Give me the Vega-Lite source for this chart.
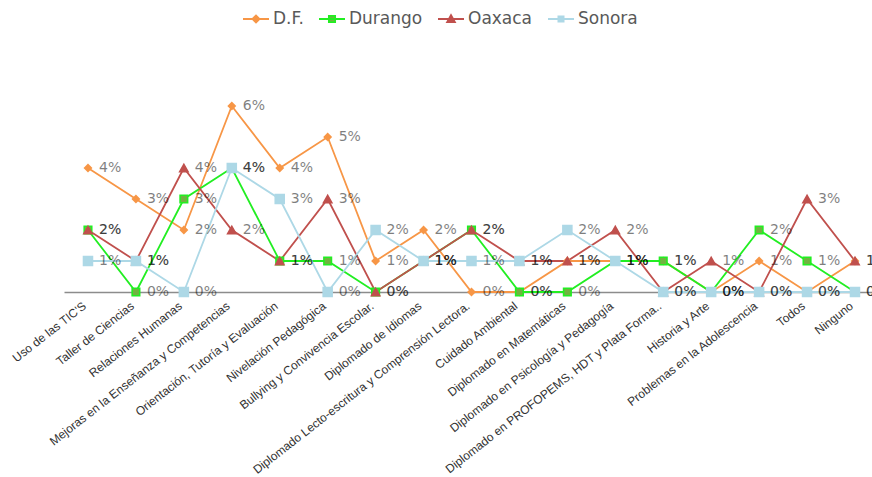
{
  "$schema": "https://vega.github.io/schema/vega-lite/v6.json",
  "autosize": {"type": "none"},
  "padding": {"left": 64, "top": 75, "right": 0, "bottom": 185},
  "width": 808,
  "height": 217,
  "background": "white",
  "config": {"view": {"stroke": null}},
  "data": {"values": [
    {"cat": "Uso de las TIC'S", "serie": "D.F.", "v": 0.04},
    {"cat": "Taller de Ciencias", "serie": "D.F.", "v": 0.03},
    {"cat": "Relaciones Humanas", "serie": "D.F.", "v": 0.02},
    {"cat": "Mejoras en la Enseñanza y Competencias", "serie": "D.F.", "v": 0.06},
    {"cat": "Orientación, Tutoría y Evaluación", "serie": "D.F.", "v": 0.04},
    {"cat": "Nivelación Pedagógica", "serie": "D.F.", "v": 0.05},
    {"cat": "Bullying y Convivencia Escolar.", "serie": "D.F.", "v": 0.01},
    {"cat": "Diplomado de Idiomas", "serie": "D.F.", "v": 0.02},
    {"cat": "Diplomado Lecto-escritura y Comprensión Lectora.", "serie": "D.F.", "v": 0},
    {"cat": "Cuidado Ambiental", "serie": "D.F.", "v": 0},
    {"cat": "Diplomado en Matemáticas", "serie": "D.F.", "v": 0.01},
    {"cat": "Diplomado en Psicología y Pedagogía", "serie": "D.F.", "v": 0.01},
    {"cat": "Diplomado en PROFOPEMS, HDT y Plata Forma..", "serie": "D.F.", "v": 0.01},
    {"cat": "Historia y Arte", "serie": "D.F.", "v": 0},
    {"cat": "Problemas en la Adolescencia", "serie": "D.F.", "v": 0.01},
    {"cat": "Todos", "serie": "D.F.", "v": 0},
    {"cat": "Ninguno", "serie": "D.F.", "v": 0.01},
    {"cat": "Uso de las TIC'S", "serie": "Durango", "v": 0.02},
    {"cat": "Taller de Ciencias", "serie": "Durango", "v": 0},
    {"cat": "Relaciones Humanas", "serie": "Durango", "v": 0.03},
    {"cat": "Mejoras en la Enseñanza y Competencias", "serie": "Durango", "v": 0.04},
    {"cat": "Orientación, Tutoría y Evaluación", "serie": "Durango", "v": 0.01},
    {"cat": "Nivelación Pedagógica", "serie": "Durango", "v": 0.01},
    {"cat": "Bullying y Convivencia Escolar.", "serie": "Durango", "v": 0},
    {"cat": "Diplomado de Idiomas", "serie": "Durango", "v": 0.01},
    {"cat": "Diplomado Lecto-escritura y Comprensión Lectora.", "serie": "Durango", "v": 0.02},
    {"cat": "Cuidado Ambiental", "serie": "Durango", "v": 0},
    {"cat": "Diplomado en Matemáticas", "serie": "Durango", "v": 0},
    {"cat": "Diplomado en Psicología y Pedagogía", "serie": "Durango", "v": 0.01},
    {"cat": "Diplomado en PROFOPEMS, HDT y Plata Forma..", "serie": "Durango", "v": 0.01},
    {"cat": "Historia y Arte", "serie": "Durango", "v": 0},
    {"cat": "Problemas en la Adolescencia", "serie": "Durango", "v": 0.02},
    {"cat": "Todos", "serie": "Durango", "v": 0.01},
    {"cat": "Ninguno", "serie": "Durango", "v": 0},
    {"cat": "Uso de las TIC'S", "serie": "Oaxaca", "v": 0.02},
    {"cat": "Taller de Ciencias", "serie": "Oaxaca", "v": 0.01},
    {"cat": "Relaciones Humanas", "serie": "Oaxaca", "v": 0.04},
    {"cat": "Mejoras en la Enseñanza y Competencias", "serie": "Oaxaca", "v": 0.02},
    {"cat": "Orientación, Tutoría y Evaluación", "serie": "Oaxaca", "v": 0.01},
    {"cat": "Nivelación Pedagógica", "serie": "Oaxaca", "v": 0.03},
    {"cat": "Bullying y Convivencia Escolar.", "serie": "Oaxaca", "v": 0},
    {"cat": "Diplomado de Idiomas", "serie": "Oaxaca", "v": 0.01},
    {"cat": "Diplomado Lecto-escritura y Comprensión Lectora.", "serie": "Oaxaca", "v": 0.02},
    {"cat": "Cuidado Ambiental", "serie": "Oaxaca", "v": 0.01},
    {"cat": "Diplomado en Matemáticas", "serie": "Oaxaca", "v": 0.01},
    {"cat": "Diplomado en Psicología y Pedagogía", "serie": "Oaxaca", "v": 0.02},
    {"cat": "Diplomado en PROFOPEMS, HDT y Plata Forma..", "serie": "Oaxaca", "v": 0},
    {"cat": "Historia y Arte", "serie": "Oaxaca", "v": 0.01},
    {"cat": "Problemas en la Adolescencia", "serie": "Oaxaca", "v": 0},
    {"cat": "Todos", "serie": "Oaxaca", "v": 0.03},
    {"cat": "Ninguno", "serie": "Oaxaca", "v": 0.01},
    {"cat": "Uso de las TIC'S", "serie": "Sonora", "v": 0.01},
    {"cat": "Taller de Ciencias", "serie": "Sonora", "v": 0.01},
    {"cat": "Relaciones Humanas", "serie": "Sonora", "v": 0},
    {"cat": "Mejoras en la Enseñanza y Competencias", "serie": "Sonora", "v": 0.04},
    {"cat": "Orientación, Tutoría y Evaluación", "serie": "Sonora", "v": 0.03},
    {"cat": "Nivelación Pedagógica", "serie": "Sonora", "v": 0},
    {"cat": "Bullying y Convivencia Escolar.", "serie": "Sonora", "v": 0.02},
    {"cat": "Diplomado de Idiomas", "serie": "Sonora", "v": 0.01},
    {"cat": "Diplomado Lecto-escritura y Comprensión Lectora.", "serie": "Sonora", "v": 0.01},
    {"cat": "Cuidado Ambiental", "serie": "Sonora", "v": 0.01},
    {"cat": "Diplomado en Matemáticas", "serie": "Sonora", "v": 0.02},
    {"cat": "Diplomado en Psicología y Pedagogía", "serie": "Sonora", "v": 0.01},
    {"cat": "Diplomado en PROFOPEMS, HDT y Plata Forma..", "serie": "Sonora", "v": 0},
    {"cat": "Historia y Arte", "serie": "Sonora", "v": 0},
    {"cat": "Problemas en la Adolescencia", "serie": "Sonora", "v": 0},
    {"cat": "Todos", "serie": "Sonora", "v": 0},
    {"cat": "Ninguno", "serie": "Sonora", "v": 0}
  ]},
  "encoding": {
    "x": {
      "field": "cat", "type": "nominal", "sort": null,
      "scale": {"type": "point", "padding": 0.4276, "align": 0.585},
      "axis": {
        "title": null, "ticks": false, "labelAngle": -38, "labelAlign": "right", "labelBaseline": "top",
        "labelPadding": 8, "labelOffset": -7, "labelFont": "Liberation Sans", "labelFontSize": 12, "labelColor": "#333333",
        "domainColor": "#8c8c8c", "domainWidth": 1.5, "labelLimit": 400, "labelOverlap": false
      }
    },
    "y": {
      "field": "v", "type": "quantitative",
      "scale": {"domain": [0, 0.07], "nice": false},
      "axis": null
    }
  },
  "layer": [
    {
      "mark": {"type": "line", "strokeWidth": 1.8},
      "encoding": {
        "stroke": {
          "field": "serie", "type": "nominal",
          "scale": {"domain": ["D.F.", "Durango", "Oaxaca", "Sonora"], "range": ["#F79646", "#22EE22", "#C0504D", "#ADD8E6"]},
          "legend": {
            "title": null, "orient": "none", "direction": "horizontal", "legendX": 178, "legendY": -70,
            "labelFont": "DejaVu Sans", "labelFontSize": 17, "labelColor": "#595959", "labelOffset": 3,
            "columnPadding": 11, "symbolSize": 676, "symbolStrokeWidth": 1.8,
            "encode": {"symbols": {"update": {
              "shape": {"signal": "datum.value === 'D.F.' ? 'M-1,0H1M-0.27,0L0,-0.27L0.27,0L0,0.27Z' : datum.value === 'Durango' ? 'M-1,0H1M-0.24,-0.24H0.24V0.24H-0.24Z' : datum.value === 'Oaxaca' ? 'M-1,0H1M-0.3,0.24L0,-0.3L0.3,0.24Z' : 'M-1,0H1M-0.2,-0.2H0.2V0.2H-0.2Z'"},
              "fill": {"signal": "datum.value === 'D.F.' ? '#F79646' : datum.value === 'Durango' ? '#6FB440' : datum.value === 'Oaxaca' ? '#C0504D' : '#ADD8E6'"},
              "strokeWidth": {"value": 1.8},
              "opacity": {"value": 1}
            }}}
          }
        }
      }
    },
    {
      "mark": {"type": "point", "filled": true, "opacity": 1, "strokeWidth": 1.6},
      "encoding": {
        "color": {
          "field": "serie", "type": "nominal",
          "scale": {"range": ["#F79646", "#6FB440", "#C0504D", "#ADD8E6"]},
          "legend": null
        },
        "stroke": {"field": "serie", "type": "nominal", "legend": null},
        "shape": {
          "field": "serie", "type": "nominal",
          "scale": {"range": ["diamond", "square", "triangle-up", "square"]},
          "legend": null
        },
        "size": {
          "field": "serie", "type": "nominal",
          "scale": {"range": [45, 80, 90, 45]},
          "legend": null
        }
      }
    },
    {
      "mark": {"type": "text", "align": "left", "baseline": "middle", "dx": 11, "font": "DejaVu Sans", "fontSize": 14, "color": "#000000", "opacity": 0.5},
      "encoding": {
        "text": {"field": "v", "type": "quantitative", "format": ".0%"}
      }
    }
  ]
}
